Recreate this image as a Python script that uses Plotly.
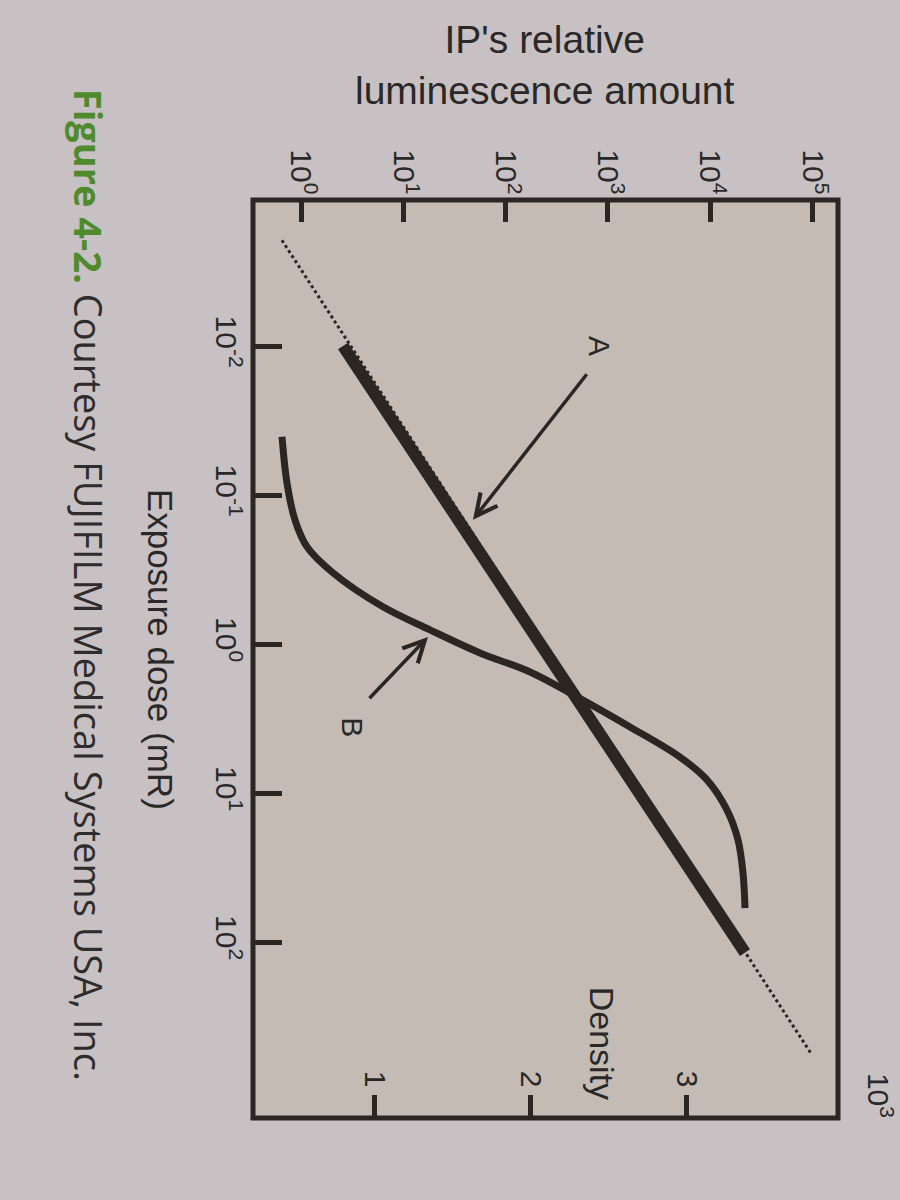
import plotly.graph_objects as go

# ---- data ----
lum_tick_vals = [1, 10, 100, 1000, 10000, 100000]
lum_tick_text = ["10<sup>0</sup>", "10<sup>1</sup>", "10<sup>2</sup>", "10<sup>3</sup>", "10<sup>4</sup>", "10<sup>5</sup>"]
dose_tick_vals = [0.01, 0.1, 1, 10, 100]
dose_tick_text = ["10<sup>-2</sup>", "10<sup>-1</sup>", "10<sup>0</sup>", "10<sup>1</sup>", "10<sup>2</sup>"]
density_tick_vals = [1, 2, 3]
density_tick_text = ["1", "2", "3"]

# Curve A: IP relative luminescence vs exposure dose (solid part and dotted extension)
A_dose = [0.01, 117.5]
A_lum = [2.57, 21900]
A_ext_dose = [0.00195, 550]
A_ext_lum = [0.65, 95500]

# Curve B: film density vs exposure dose
B_dose = [0.0406, 0.0832, 0.1466, 0.2223, 0.3327, 0.5623, 0.8035, 1.146, 1.538,
          2.259, 3.597, 5.728, 8.147, 12.97, 20.61, 34.36, 59.02]
B_density = [0.404, 0.436, 0.487, 0.564, 0.731, 1.051, 1.353, 1.673, 1.994,
             2.295, 2.635, 2.955, 3.128, 3.256, 3.327, 3.359, 3.372]

INK = "#2b2622"
TXT = "#2a2828"
FONT = "Liberation Sans"
PAPER = "#c7c1c3"

fig = go.Figure()

fig.add_trace(go.Scatter(x=A_ext_lum, y=A_ext_dose, mode="lines",
                         line=dict(color=INK, width=3, dash="dot"),
                         xaxis="x", yaxis="y", showlegend=False, hoverinfo="skip"))
fig.add_trace(go.Scatter(x=A_lum, y=A_dose, mode="lines",
                         line=dict(color=INK, width=12),
                         xaxis="x", yaxis="y", showlegend=False))
fig.add_trace(go.Scatter(x=B_density, y=B_dose, mode="lines",
                         line=dict(color=INK, width=7, shape="spline", smoothing=1.0),
                         xaxis="x2", yaxis="y", showlegend=False))

fig.update_layout(
    width=900, height=1200,
    margin=dict(l=253, r=62, t=200, b=82),
    paper_bgcolor=PAPER,
    plot_bgcolor="#c4bcb4",
    font=dict(family=FONT, color=TXT),
    xaxis=dict(type="log", range=[-0.47, 5.25], side="top",
               tickmode="array", tickvals=lum_tick_vals, ticktext=lum_tick_text,
               tickangle=90, ticks="inside", ticklen=22, tickwidth=5, tickcolor=INK,
               tickfont=dict(size=30, family=FONT, color=TXT),
               showgrid=False, zeroline=False, showline=False),
    xaxis2=dict(range=[0.218, 3.968], overlaying="x", side="bottom",
                tickmode="array", tickvals=density_tick_vals, ticktext=density_tick_text,
                tickangle=90, ticks="inside", ticklen=23, tickwidth=5, tickcolor=INK,
                ticklabelposition="inside",
                tickfont=dict(size=30, family=FONT, color=TXT),
                showgrid=False, zeroline=False, showline=False),
    yaxis=dict(type="log", range=[3.18, -2.98],
               tickmode="array", tickvals=dose_tick_vals, ticktext=dose_tick_text,
               tickangle=90, ticks="inside", ticklen=29, tickwidth=5, tickcolor=INK,
               ticklabelstandoff=6,
               tickfont=dict(size=30, family=FONT, color=TXT),
               showgrid=False, zeroline=False, showline=False),
)

# frame
fig.add_shape(type="rect", xref="paper", yref="paper", x0=0, y0=0, x1=1, y1=1,
              line=dict(color=INK, width=5))

# arrows
fig.add_annotation(x=1.681, y=-0.835, ax=2.805, ay=-1.821, xref="x", yref="y",
                   axref="x", ayref="y", showarrow=True, arrowhead=5, arrowsize=1.2,
                   arrowwidth=3.5, arrowcolor=INK, text="")
fig.add_annotation(x=1.241, y=-0.048, ax=0.655, ay=0.374, xref="x", yref="y",
                   axref="x", ayref="y", showarrow=True, arrowhead=5, arrowsize=1.2,
                   arrowwidth=3.5, arrowcolor=INK, text="")

C = dict(xanchor="center", yanchor="middle", showarrow=False)

# labels
fig.add_annotation(x=2.923, y=-2.0, xref="x", yref="y", text="A",
                   textangle=90, font=dict(size=30, color=TXT), **C)
fig.add_annotation(x=0.5, y=0.56, xref="x", yref="y", text="B",
                   textangle=90, font=dict(size=30, color=TXT), **C)
fig.add_annotation(x=2.94, y=2.68, xref="x", yref="y", text="Density",
                   textangle=90, font=dict(size=34, color=TXT), **C)
fig.add_annotation(x=1.072, y=0.025, xref="paper", yref="paper", text="10<sup>3</sup>",
                   textangle=90, font=dict(size=30, color=TXT), **C)

# axis titles
fig.add_annotation(x=0.499, y=1.147, xref="paper", yref="paper",
                   text="IP's relative<br>luminescence amount",
                   font=dict(size=39, color=TXT), **C)
fig.add_annotation(x=-0.159, y=0.51, xref="paper", yref="paper",
                   text="Exposure dose (mR)", textangle=90,
                   font=dict(size=35, color=TXT), **C)

# caption
fig.add_annotation(x=-0.279, y=0.581, xref="paper", yref="paper",
                   text="<span style='color:#4f8a2c'><b>Figure 4-2.</b></span> Courtesy FUJIFILM Medical Systems USA, Inc.",
                   textangle=90,
                   font=dict(size=38, family="Open Sans", color="#2e2c2c"), **C)

fig.write_html("out.html",
               config={"displayModeBar": False},
               post_script="document.body.style.margin='0';document.body.style.background='%s';" % PAPER)
